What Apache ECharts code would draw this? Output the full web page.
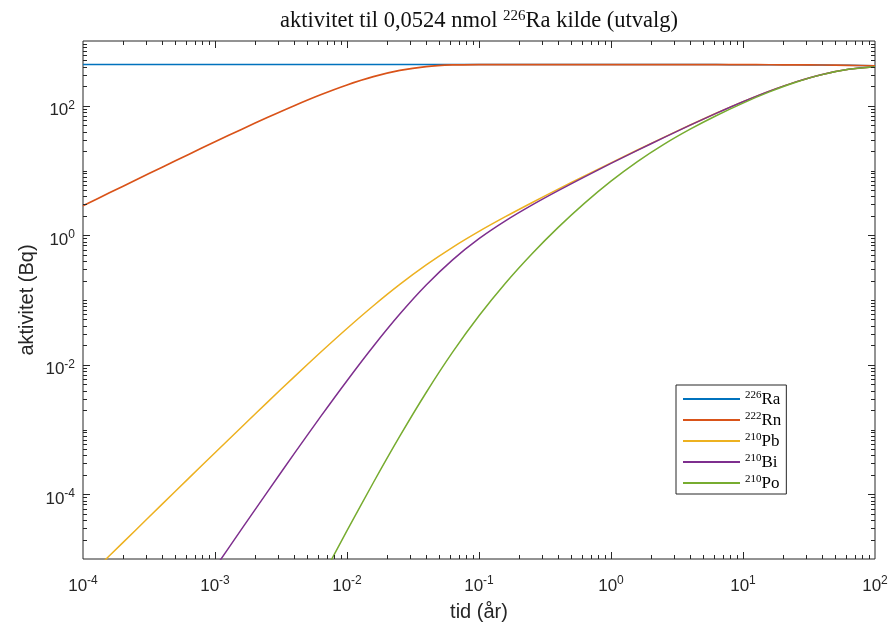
<!DOCTYPE html>
<html>
<head>
<meta charset="utf-8">
<script src="https://cdn.jsdelivr.net/npm/echarts@6/dist/echarts.min.js"></script>
<style>
html,body{margin:0;padding:0;background:#fff;}
#chart{width:891px;height:623px;}
</style>
</head>
<body>
<div id="chart"></div>
<script>
// time (years)
const tid = [1e-4, 1.585e-4, 2.512e-4, 3.981e-4, 6.31e-4, 1e-3, 1.585e-3, 2.512e-3, 3.981e-3, 6.31e-3,
  1e-2, 1.585e-2, 2.512e-2, 3.981e-2, 6.31e-2, 0.1, 0.1585, 0.2512, 0.3981, 0.631,
  1, 1.585, 2.512, 3.981, 6.31, 10, 15.85, 25.12, 39.81, 63.1, 100];
// activity (Bq)
const ra226 = [433, 433, 433, 433, 433, 433, 433, 433, 433, 433,
  433, 433, 433, 433, 433, 433, 432.97, 432.95, 432.93, 432.88,
  432.81, 432.70, 432.53, 432.25, 431.82, 431.13, 430.04, 428.32, 425.60, 421.33, 414.65];
const rn222 = [2.857, 4.520, 7.141, 11.262, 17.715, 27.736, 43.131, 66.337, 100.32, 147.85,
  209.65, 281.37, 350.92, 401.96, 426.36, 432.42, 432.96, 432.95, 432.93, 432.88,
  432.81, 432.70, 432.53, 432.25, 431.82, 431.13, 430.04, 428.32, 425.60, 421.33, 414.65];
const pb210 = [4.465e-6, 1.1202e-5, 2.808e-5, 7.030e-5, 1.7568e-4, 4.378e-4, 1.0857e-3, 2.6732e-3, 6.507e-3, 0.015572,
  0.036306, 0.081555, 0.17404, 0.34837, 0.65127, 1.1461, 1.9341, 3.1797, 5.1462, 8.2451,
  13.109, 20.703, 32.454, 50.382, 77.147, 115.70, 168.26, 233.82, 304.82, 365.99, 401.12];
const bi210 = [7.51e-9, 2.985e-8, 1.185e-7, 4.70e-7, 1.857e-6, 7.316e-6, 2.8643e-5, 1.1101e-4, 4.2369e-4, 1.5796e-3,
  5.6753e-3, 0.019312, 0.060592, 0.17025, 0.41725, 0.8849, 1.6674, 2.9141, 4.8818, 7.9826,
  12.850, 20.448, 32.207, 50.146, 76.927, 115.50, 168.10, 233.70, 304.75, 365.95, 401.11];
const po210 = [3.437e-13, 2.166e-12, 1.3636e-11, 8.572e-11, 5.381e-10, 3.3646e-9, 2.0945e-8, 1.2930e-7, 7.8824e-7, 4.7154e-6,
  2.7363e-5, 1.5187e-4, 7.8845e-4, 3.7301e-3, 0.015638, 0.0570, 0.18142, 0.51327, 1.3215, 3.1336,
  6.8451, 13.735, 25.347, 43.511, 70.759, 110.01, 163.53, 230.28, 302.60, 364.92, 400.79];

const isoMass = ['226', '222', '210', '210', '210'];
const isoSym = ['Ra', 'Rn', 'Pb', 'Bi', 'Po'];
const seriesValues = [ra226, rn222, pb210, bi210, po210];
const colors = ['#0072BD', '#D95319', '#EDB120', '#7E2F8E', '#77AC30'];
const widths = [1.5, 1.7, 1.5, 1.5, 1.5];

const xMin = 1e-4, xMax = 1e2, yMin = 1e-5, yMax = 1e3;
const xLabelExp = [-4, -3, -2, -1, 0, 1, 2];
const yLabelExp = [-4, -2, 0, 2];

const names = isoSym.map((s, i) => isoMass[i] + s);

// tick marks (major + minor), drawn inward on all four sides
const tickData = [];
for (let k = -4; k <= 1; k++) {
  for (let n = 1; n <= 9; n++) {
    const v = n * Math.pow(10, k);
    if (n === 1 && k === -4) continue;
    tickData.push([v, 1, 0, n === 1 ? 7 : 4]);
  }
}
for (let k = -5; k <= 2; k++) {
  for (let n = 1; n <= 9; n++) {
    const v = n * Math.pow(10, k);
    if (n === 1 && k === -5) continue;
    const major = n === 1 && yLabelExp.indexOf(k) >= 0;
    tickData.push([1, v, 1, major ? 7 : 4]);
  }
}

const chart = echarts.init(document.getElementById('chart'), null, {renderer: 'canvas'});

const lineSeries = names.map((nm, i) => ({
  name: nm,
  type: 'line',
  data: tid.map((t, j) => [t, seriesValues[i][j]]),
  symbol: 'none',
  showSymbol: false,
  smooth: 0.3,
  clip: true,
  lineStyle: {color: colors[i], width: widths[i]},
  itemStyle: {color: colors[i]},
  z: 3 + i,
  animation: false
}));

const tickSeries = {
  type: 'custom',
  silent: true,
  animation: false,
  z: 20,
  data: tickData,
  encode: {x: 0, y: 1},
  renderItem: function (params, api) {
    const axis = api.value(2), len = api.value(3);
    const st = {stroke: '#262626', lineWidth: 1};
    if (axis === 0) {
      const v = api.value(0);
      const b = api.coord([v, yMin]), t = api.coord([v, yMax]);
      const x = Math.round(b[0]) + 0.5;
      return {type: 'group', children: [
        {type: 'line', shape: {x1: x, y1: b[1], x2: x, y2: b[1] - len}, style: st},
        {type: 'line', shape: {x1: x, y1: t[1], x2: x, y2: t[1] + len}, style: st}
      ]};
    } else {
      const v = api.value(1);
      const l = api.coord([xMin, v]), r = api.coord([xMax, v]);
      const y = Math.round(l[1]) + 0.5;
      return {type: 'group', children: [
        {type: 'line', shape: {x1: l[0], y1: y, x2: l[0] + len, y2: y}, style: st},
        {type: 'line', shape: {x1: r[0], y1: y, x2: r[0] - len, y2: y}, style: st}
      ]};
    }
  }
};

const tickRich = {
  b: {fontFamily: 'Liberation Sans', fontSize: 17, color: '#262626', lineHeight: 20, verticalAlign: 'bottom'},
  s: {fontFamily: 'Liberation Sans', fontSize: 12, color: '#262626', lineHeight: 14, verticalAlign: 'top'}
};

chart.setOption({
  animation: false,
  backgroundColor: '#fff',
  grid: {left: 83, right: 16, top: 41, bottom: 64, show: true, borderColor: '#262626', borderWidth: 1, backgroundColor: '#fff'},
  xAxis: {
    type: 'log', logBase: 10, min: xMin, max: xMax, splitNumber: 6,
    axisLine: {show: false}, axisTick: {show: false}, splitLine: {show: false},
    axisLabel: {
      margin: 16,
      formatter: function (v) {
        const e = Math.round(Math.log10(v));
        if (xLabelExp.indexOf(e) < 0) return '';
        return '{b|10}{s|' + e + '}';
      },
      rich: tickRich
    }
  },
  yAxis: {
    type: 'log', logBase: 10, min: yMin, max: yMax, splitNumber: 8,
    axisLine: {show: false}, axisTick: {show: false}, splitLine: {show: false},
    axisLabel: {
      margin: 8,
      padding: [7, 0, 0, 0],
      formatter: function (v) {
        const e = Math.round(Math.log10(v));
        if (yLabelExp.indexOf(e) < 0) return '';
        return '{b|10}{s|' + e + '}';
      },
      rich: tickRich
    }
  },
  legend: {
    data: names,
    orient: 'vertical',
    left: 676, top: 385,
    itemWidth: 57, itemHeight: 14, itemGap: 3,
    padding: [5, 5, 2, 6],
    borderColor: '#262626', borderWidth: 1, borderRadius: 0,
    backgroundColor: '#fff',
    selectedMode: false,
    itemStyle: {opacity: 0, borderWidth: 0},
    formatter: function (name) {
      const i = names.indexOf(name);
      return '{s|' + isoMass[i] + '}{b|' + isoSym[i] + '}';
    },
    textStyle: {
      rich: {
        b: {fontFamily: 'Liberation Serif', fontSize: 17, color: '#000', lineHeight: 18, verticalAlign: 'bottom'},
        s: {fontFamily: 'Liberation Serif', fontSize: 11, color: '#000', lineHeight: 13, verticalAlign: 'top'}
      }
    }
  },
  graphic: [
    {
      type: 'text', x: 479, y: 21, z: 50,
      style: {
        text: 'aktivitet til 0,0524 nmol {s|226}{b|Ra kilde (utvalg)}',
        fontFamily: 'Liberation Serif', fontSize: 22.5, fill: '#111',
        align: 'center', verticalAlign: 'middle',
        rich: {
          b: {fontFamily: 'Liberation Serif', fontSize: 22.5, fill: '#111', lineHeight: 24, verticalAlign: 'bottom'},
          s: {fontFamily: 'Liberation Serif', fontSize: 15, fill: '#111', lineHeight: 18, verticalAlign: 'top'}
        }
      }
    },
    {
      type: 'text', x: 479, y: 612, z: 50,
      style: {text: 'tid (år)', fontFamily: 'Liberation Sans', fontSize: 20, fill: '#262626', align: 'center', verticalAlign: 'middle'}
    },
    {
      type: 'text', x: 27, y: 300, rotation: Math.PI / 2, z: 50,
      style: {text: 'aktivitet (Bq)', fontFamily: 'Liberation Sans', fontSize: 20, fill: '#262626', align: 'center', verticalAlign: 'middle'}
    }
  ],
  series: lineSeries.concat([tickSeries])
});
</script>
</body>
</html>
